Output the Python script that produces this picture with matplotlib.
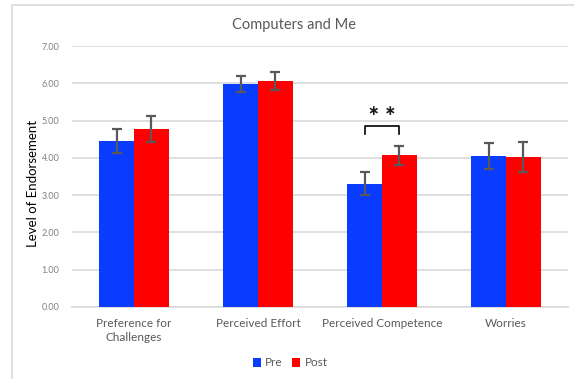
import matplotlib
matplotlib.use("Agg")
import matplotlib.pyplot as plt
import numpy as np
from matplotlib.patches import Rectangle

categories = ["Preference for\nChallenges", "Perceived Effort", "Perceived Competence", "Worries"]
pre_vals = [4.45, 5.98, 3.31, 4.05]
post_vals = [4.77, 6.06, 4.07, 4.02]
pre_err = [0.32, 0.22, 0.31, 0.36]
post_err = [0.34, 0.25, 0.26, 0.41]
yticks = [0, 1, 2, 3, 4, 5, 6, 7]

plt.rcParams['font.family'] = ['Lato', 'DejaVu Sans']

W, H = 574, 379
fig = plt.figure(figsize=(W/100, H/100), dpi=100)
ax = fig.add_axes([72/W, (H-307)/H, (568-72)/W, (307-46)/H])

# chart border
fig.patches.append(Rectangle((12/W, -0.1), 1.2, (H-5)/H + 0.1, transform=fig.transFigure,
                             fill=False, edgecolor="#d9d9d9", lw=1.2, zorder=-1))

x = np.arange(len(categories))
bw = 0.282
blue = "#0a3cff"
red = "#ff0000"
ax.bar(x - bw/2, pre_vals, bw, color=blue, label="Pre", zorder=3)
ax.bar(x + bw/2, post_vals, bw, color=red, label="Post", zorder=3)
ax.errorbar(x - bw/2, pre_vals, yerr=pre_err, fmt="none", ecolor="#595959", elinewidth=1.6,
            capsize=3.5, capthick=1.6, zorder=4)
ax.errorbar(x + bw/2, post_vals, yerr=post_err, fmt="none", ecolor="#595959", elinewidth=1.6,
            capsize=3.5, capthick=1.6, zorder=4)

ax.set_xlim(-0.5, 3.5)
ax.set_ylim(0, 7)
ax.set_yticks(yticks)
ax.set_yticklabels([f"{v:.2f}" for v in yticks], fontsize=6.5, color="#7f7f7f")
ax.set_xticks(x)
ax.set_xticklabels(categories, fontsize=8.5, color="#595959", linespacing=1.35)
ax.tick_params(axis="both", length=0)
ax.tick_params(axis="y", pad=9)
ax.tick_params(axis="x", pad=8)
ax.grid(axis="y", color="#d9d9d9", lw=1.2, zorder=0)
for s in ["top", "right", "left"]:
    ax.spines[s].set_visible(False)
ax.spines["bottom"].set_color("#d9d9d9")
ax.spines["bottom"].set_linewidth(1.2)

ax.set_ylabel("Level of Endorsement", fontsize=9.5, color="black", va="center")
ax.yaxis.set_label_coords((33-72)/496, (307-183.5)/261)

# significance bracket
xl, xr = 2 - bw/2, 2 + bw/2
ax.plot([xl, xl, xr, xr], [4.63, 4.86, 4.86, 4.63], color="black", lw=1.2, zorder=5)
ax.text(2, 5.27, "∗ ∗", ha="center", va="center", fontsize=10, fontweight="bold",
        color="#1a1a1a", family="DejaVu Sans")

fig.text(294/W, (H-25)/H, "Computers and Me", ha="center", va="center", fontsize=10.5, color="#595959")

fig.legend(loc="center", bbox_to_anchor=(290/W, (H-363)/H), ncol=2, frameon=False,
           fontsize=8.5, handlelength=0.7, handleheight=0.7, handletextpad=0.35,
           columnspacing=0.8, labelcolor="#595959")

fig.savefig("out.png", dpi=100)
